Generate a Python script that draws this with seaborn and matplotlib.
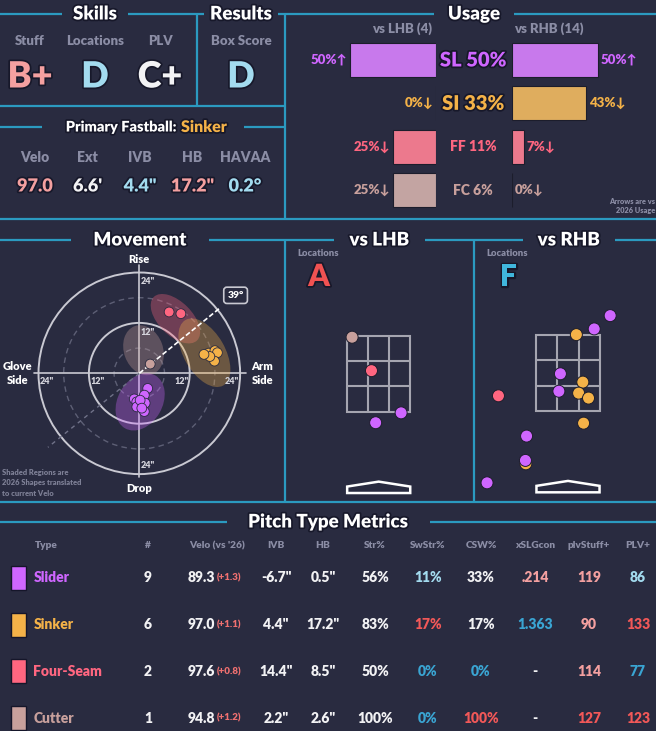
import numpy as np
import pandas as pd
import matplotlib.pyplot as plt
import seaborn as sns
from matplotlib.patches import Ellipse, Circle, Rectangle, Polygon
import matplotlib.patheffects as pe

# ---------------- data ----------------
pitch_names = ['Slider', 'Sinker', 'Four-Seam', 'Cutter']
pitch_codes = ['SL', 'SI', 'FF', 'FC']

skill_labels = ['Stuff', 'Locations', 'PLV']
skill_grades = ['B+', 'D', 'C+']
result_label = 'Box Score'
result_grade = 'D'

fb_pitch = 'Sinker'
fb_labels = ['Velo', 'Ext', 'IVB', 'HB', 'HAVAA']
fb_values = ['97.0', "6.6'", '4.4"', '17.2"', '0.2°']

usage_all = [50, 33, 11, 6]
usage_lhb = [50, 0, 25, 25]
usage_rhb = [50, 43, 7, 0]
arrow_lhb = ['↑', '↓', '↓', '↓']
arrow_rhb = ['↑', '↓', '↓', '↓']
n_lhb = 4
n_rhb = 14

# movement: horizontal break / induced vertical break (inches)
mov_type = ['FF', 'FF', 'FC',
            'SI', 'SI', 'SI', 'SI', 'SI', 'SI',
            'SL', 'SL', 'SL', 'SL', 'SL', 'SL', 'SL', 'SL', 'SL']
mov_hb = [7.1, 9.9, 2.6,
          16.5, 18.0, 18.6, 17.9, 16.8, 15.4,
          2.0, -1.2, -0.6, 1.2, 1.4, -0.6, 1.2, 0.2, 0.6]
mov_ivb = [14.6, 14.2, 2.2,
           4.8, 5.4, 4.9, 2.9, 4.0, 4.5,
           -3.6, -6.1, -6.8, -5.2, -7.1, -8.0, -9.1, -6.4, -8.3]
arm_angle = 39

# 2026 shapes (center hb, center ivb, width, height, tilt)
shape_type = ['FF', 'SI', 'FC', 'SL']
shape_hb = [8.6, 15.5, 1.0, 0.2]
shape_ivb = [13.0, 4.9, 5.5, -6.8]
shape_w = [14.6, 18.0, 12.2, 14.5]
shape_h = [8.0, 9.8, 9.3, 10.6]
shape_tilt = [-45, -60, -70, 60]

# locations (plate x / plate z, feet)
loc_grade_lhb = 'A'
loc_grade_rhb = 'F'
lhb_type = ['FC', 'FF', 'SL', 'SL']
lhb_x = [-0.70, -0.19, 0.59, -0.08]
lhb_z = [3.46, 2.58, 1.47, 1.21]
rhb_type = ['SL', 'SL', 'SI', 'SL', 'SI', 'SL', 'SI', 'SI', 'SI', 'FF', 'SL', 'SI', 'SL', 'SL']
rhb_x = [1.11, 0.69, 0.22, -0.20, 0.39, -0.24, 0.28, 0.54, 0.41, -1.83, -1.09, -1.11, -1.12, -2.13]
rhb_z = [4.01, 3.66, 3.51, 2.48, 2.26, 2.02, 1.97, 1.84, 1.18, 1.90, 0.84, 0.11, 0.20, -0.39]

# table
tbl_count = [9, 6, 2, 1]
tbl_velo = [89.3, 97.0, 97.6, 94.8]
tbl_velo_diff = [1.3, 1.1, 0.8, 1.2]
tbl_ivb = [-6.7, 4.4, 14.4, 2.2]
tbl_hb = [0.5, 17.2, 8.5, 2.6]
tbl_str = [56, 83, 50, 100]
tbl_swstr = [11, 17, 0, 0]
tbl_csw = [33, 17, 0, 100]
tbl_xslg = ['.214', '1.363', '-', '-']
tbl_stuff = [119, 90, 114, 127]
tbl_plv = [86, 133, 77, 123]

# ---------------- style ----------------
W, H = 656, 731
BG = '#292b40'
LINE = '#2b9ac0'
GREY = '#8b8da5'
WHITE = '#f2f2f4'
RED = '#f25858'
SALMON = '#f4a0a0'
LBLUE = '#a3dbef'
BLUE = '#3aa5d3'
pitch_colors = {'SL': '#cf66ff', 'SI': '#f4b248', 'FF': '#ff6680', 'FC': '#c8a09c'}

skill_colors = [SALMON, LBLUE, WHITE]
result_color = LBLUE
fb_colors = [SALMON, WHITE, LBLUE, SALMON, LBLUE]
swstr_colors = [LBLUE, RED, BLUE, BLUE]
csw_colors = [WHITE, WHITE, BLUE, RED]
xslg_colors = [SALMON, BLUE, WHITE, WHITE]
stuff_colors = [SALMON, SALMON, SALMON, RED]
plv_colors = [LBLUE, RED, BLUE, RED]

sns.set_theme(style='dark')
plt.rcParams['font.family'] = ['Lato', 'DejaVu Sans']

fig = plt.figure(figsize=(W / 100, H / 100), dpi=100, facecolor=BG)


def px_axes(x0, y0, x1, y1):
    ax = fig.add_axes([x0 / W, 1 - y1 / H, (x1 - x0) / W, (y1 - y0) / H])
    ax.set_facecolor('none')
    return ax


halo = [pe.withStroke(linewidth=2.5, foreground='#17182a')]


def txt(ax, x, y, s, size, color, ha='center', va='center', weight='heavy', **kw):
    return ax.text(x, y, s, fontsize=size, color=color, ha=ha, va=va,
                   fontweight=weight, **kw)


canvas = px_axes(0, 0, W, H)
canvas.set_xlim(0, W)
canvas.set_ylim(H, 0)
canvas.set_axis_off()

# ---------------- panel lines & titles ----------------
title_rows = [
    (14, 0, 656, [('Skills', 95, 33), ('Results', 241, 37), ('Usage', 474, 40)]),
    (127, 0, 285, [(None, 143, 101)]),
    (240, 0, 656, [('Movement', 140, 69), ('vs LHB', 379.5, 45.5), ('vs RHB', 569, 46)]),
    (522, 0, 656, [('Pitch Type Metrics', 328, 101.5)]),
]
for y, x0, x1, titles in title_rows:
    start = x0
    for t, cx, g in titles:
        canvas.plot([start, cx - g], [y, y], color=LINE, lw=1.6, solid_capstyle='butt')
        start = cx + g
        if t:
            txt(canvas, cx, y, t, 13.5, 'white', path_effects=halo)
    canvas.plot([start, x1], [y, y], color=LINE, lw=1.6, solid_capstyle='butt')

txt(canvas, 177, 127, 'Primary Fastball:', 10.5, 'white', ha='right', path_effects=halo)
txt(canvas, 181, 127, fb_pitch, 11.5, pitch_colors['SI'], ha='left', path_effects=halo)

for xs, ys in [([0, 285], [106, 106]), ([0, 656], [219, 219]), ([0, 656], [502, 502]),
               ([197, 197], [14, 106]), ([285, 285], [14, 219]),
               ([285, 285], [240, 502]), ([474, 474], [240, 502])]:
    canvas.plot(xs, ys, color=LINE, lw=1.6, solid_capstyle='butt')

# ---------------- skills / results ----------------
for i, (lab, g) in enumerate(zip(skill_labels, skill_grades)):
    cx = 30 + i * 65
    txt(canvas, cx, 41, lab, 9.5, GREY)
    txt(canvas, cx, 77, g, 26, skill_colors[i], path_effects=halo)
txt(canvas, 241, 41, result_label, 9.5, GREY)
txt(canvas, 241, 77, result_grade, 26, result_color, path_effects=halo)

for i, (lab, v) in enumerate(zip(fb_labels, fb_values)):
    cx = 35 + i * 52.5
    txt(canvas, cx, 158, lab, 10, GREY)
    txt(canvas, cx, 186, v, 13, fb_colors[i], path_effects=halo)

# ---------------- usage ----------------
ax_l = px_axes(264, 38.3, 436, 211.7)
ax_r = px_axes(512, 38.3, 656, 211.7)
sns.barplot(x=usage_lhb, y=pitch_codes, hue=pitch_codes, palette=pitch_colors,
            orient='h', width=0.79, edgecolor='#1c1d2c', linewidth=0.8,
            legend=False, ax=ax_l)
sns.barplot(x=usage_rhb, y=pitch_codes, hue=pitch_codes, palette=pitch_colors,
            orient='h', width=0.79, edgecolor='#1c1d2c', linewidth=0.8,
            legend=False, ax=ax_r)
ax_l.set_xlim(100, 0)
ax_r.set_xlim(0, 144 / 172 * 100)
for ax in (ax_l, ax_r):
    ax.set_ylim(3.5, -0.5)
    ax.set_axis_off()

for i, code in enumerate(pitch_codes):
    col = pitch_colors[code]
    txt(ax_l, usage_lhb[i] + 1.6, i, f'{usage_lhb[i]}%{arrow_lhb[i]}', 9.5, col, ha='right')
    txt(ax_r, usage_rhb[i] + 1.6, i, f'{usage_rhb[i]}%{arrow_rhb[i]}', 9.5, col, ha='left')
    big = usage_all[i] >= 20
    txt(ax_r, -39 / 144, i, f'{code} {usage_all[i]}%', 14.5 if big else 10, col,
        transform=ax_r.get_yaxis_transform(), path_effects=halo if big else None)

txt(canvas, 402, 29, f'vs LHB ({n_lhb})', 9.5, GREY)
txt(canvas, 549, 29, f'vs RHB ({n_rhb})', 9.5, GREY)
txt(canvas, 655, 206, 'Arrows are vs\n2026 Usage', 5.3, GREY, ha='right', linespacing=1.5)

# ---------------- movement ----------------
ppi = 4.2
ax_m = px_axes(0, 250, 285, 500)
for r, ls, c, lw in [(6, (0, (4, 3)), '#5d5f75', 1.0), (18, (0, (4, 3)), '#5d5f75', 1.0),
                     (12, '-', '#c9c9d2', 1.4), (24, '-', '#c9c9d2', 1.4)]:
    ax_m.add_patch(Circle((0, 0), r, fill=False, ec=c, lw=lw, ls=ls, zorder=1))
ax_m.plot([-25, 25.5], [0, 0], color='#c9c9d2', lw=1.2, zorder=1)
ax_m.plot([0, 0], [-24.6, 25.8], color='#c9c9d2', lw=1.2, zorder=1)

for t, cx, cy, w, h, a in zip(shape_type, shape_hb, shape_ivb, shape_w, shape_h, shape_tilt):
    ax_m.add_patch(Ellipse((cx, cy), w, h, angle=a, facecolor=pitch_colors[t],
                           alpha=0.33, edgecolor='none', zorder=2))

rad = np.deg2rad(arm_angle)
ax_m.plot([0, -28 * np.cos(rad)], [0, -28 * np.sin(rad)], color='#6f7188',
          lw=1.0, ls=(0, (3, 3)), zorder=3)
ax_m.plot([0, 24.5 * np.cos(rad)], [0, 24.5 * np.sin(rad)], color='white',
          lw=1.2, ls=(0, (3, 1.5)), zorder=3)
txt(ax_m, 29.5 * np.cos(rad), 29.5 * np.sin(rad), f'{arm_angle}°', 7.5, 'white',
    zorder=6, bbox=dict(boxstyle='round,pad=0.35,rounding_size=0.3', fc=BG,
                        ec='#c9c9d2', lw=1.2))

mov_df = pd.DataFrame({'type': mov_type, 'hb': mov_hb, 'ivb': mov_ivb})
sns.scatterplot(data=mov_df, x='hb', y='ivb', hue='type', palette=pitch_colors,
                s=50, edgecolor=BG, linewidth=0.6, legend=False, ax=ax_m, zorder=5)

for r in (12, 24):
    txt(ax_m, -(r - 2), -2, f'{r}"', 6.5, '#d4d4dc')
    txt(ax_m, r - 2, -2, f'{r}"', 6.5, '#d4d4dc')
    txt(ax_m, 2, r - 2.2, f'{r}"', 6.5, '#d4d4dc')
txt(ax_m, 2, -22, '24"', 6.5, '#d4d4dc')
txt(ax_m, 0, 27, 'Rise', 8, 'white')
txt(ax_m, 0, -27.4, 'Drop', 8, 'white')
txt(ax_m, -29, 0, 'Glove\nSide', 8, 'white', linespacing=1.4)
txt(ax_m, 29.3, 0, 'Arm\nSide', 8, 'white', linespacing=1.4)
ax_m.set_xlim(-139.3 / ppi, (285 - 139.3) / ppi)
ax_m.set_ylim((373.3 - 500) / ppi, (373.3 - 250) / ppi)
ax_m.set_axis_off()
txt(canvas, 2, 483, 'Shaded Regions are\n2026 Shapes translated\nto current Velo', 5.4,
    '#7d7f95', ha='left', linespacing=1.5)

# ---------------- locations ----------------
ppf = 38.0


def draw_locations(ax, xs, zs, types, cx_px, top_px, x0_px, x1_px):
    ax.add_patch(Rectangle((-0.83, 1.5), 1.66, 2.0, fill=False, ec='#a5a5b0', lw=1.5, zorder=1))
    for gx in (-0.83 / 3, 0.83 / 3):
        ax.plot([gx, gx], [1.5, 3.5], color='#a5a5b0', lw=1.5, zorder=1)
    for gz in (1.5 + 2 / 3, 1.5 + 4 / 3):
        ax.plot([-0.83, 0.83], [gz, gz], color='#a5a5b0', lw=1.5, zorder=1)
    ax.add_patch(Polygon([(-0.83, -0.47), (0, -0.34), (0.83, -0.47), (0.83, -0.64), (-0.83, -0.64)],
                         closed=True, fill=False, ec='white', lw=1.8, zorder=1))
    df = pd.DataFrame({'type': types, 'x': xs, 'z': zs})
    sns.scatterplot(data=df, x='x', y='z', hue='type', palette=pitch_colors, s=75,
                    edgecolor='#1c1d2c', linewidth=0.7, legend=False, ax=ax, zorder=5)
    ax.set_xlim((x0_px - cx_px) / ppf, (x1_px - cx_px) / ppf)
    ax.set_ylim(3.5 - (500 - top_px) / ppf, 3.5 + (top_px - 250) / ppf)
    ax.set_axis_off()


ax_lhb = px_axes(286, 250, 474, 500)
draw_locations(ax_lhb, lhb_x, lhb_z, lhb_type, 378.7, 335.7, 286, 474)
ax_rhb = px_axes(474, 250, 656, 500)
draw_locations(ax_rhb, rhb_x, rhb_z, rhb_type, 568, 335, 474, 656)

txt(canvas, 297, 254, 'Locations', 6.8, GREY, ha='left')
txt(canvas, 319, 277, loc_grade_lhb, 22, '#f05252', path_effects=halo)
txt(canvas, 486, 254, 'Locations', 6.8, GREY, ha='left')
txt(canvas, 508, 277, loc_grade_rhb, 22, '#40b6dc', path_effects=halo)

# ---------------- table ----------------
headers = ['#', "Velo (vs '26)", 'IVB', 'HB', 'Str%', 'SwStr%', 'CSW%', 'xSLGcon', 'plvStuff+', 'PLV+']
head_x = [148, 217, 276, 323, 375, 428, 481, 535, 589, 638]
txt(canvas, 35, 546, 'Type', 7.3, GREY, ha='left')
for h, hx in zip(headers, head_x):
    txt(canvas, hx, 546, h, 7.3, GREY)

for i, code in enumerate(pitch_codes):
    y = 578 + i * 46.7
    col = pitch_colors[code]
    canvas.add_patch(Rectangle((11, y - 12), 15, 24, fc=col, ec='#15162a', lw=1.0))
    txt(canvas, 33.5, y, pitch_names[i], 10, col, ha='left')
    txt(canvas, 148, y, str(tbl_count[i]), 10, WHITE)
    txt(canvas, 215, y, f'{tbl_velo[i]:.1f}', 10, WHITE, ha='right')
    txt(canvas, 217, y, f'(+{tbl_velo_diff[i]:.1f})', 7, '#f07070', ha='left')
    txt(canvas, 276, y, f'{tbl_ivb[i]:.1f}"', 10, WHITE)
    txt(canvas, 323, y, f'{tbl_hb[i]:.1f}"', 10, WHITE)
    txt(canvas, 375, y, f'{tbl_str[i]}%', 10, WHITE)
    txt(canvas, 428, y, f'{tbl_swstr[i]}%', 10, swstr_colors[i])
    txt(canvas, 481, y, f'{tbl_csw[i]}%', 10, csw_colors[i])
    txt(canvas, 535, y, tbl_xslg[i], 10, xslg_colors[i])
    txt(canvas, 589, y, str(tbl_stuff[i]), 10, stuff_colors[i])
    txt(canvas, 638, y, str(tbl_plv[i]), 10, plv_colors[i])

fig.savefig('out.png', dpi=100, facecolor=BG)
